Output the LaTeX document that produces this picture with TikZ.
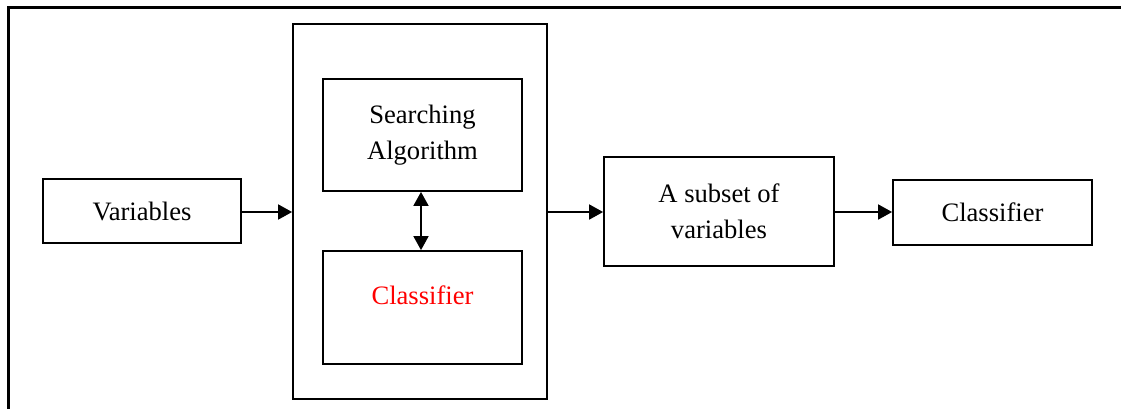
\documentclass[tikz,border=0pt]{standalone}
\usepackage{fontspec}
\setmainfont{Liberation Serif}
\usetikzlibrary{arrows.meta}
\begin{document}
\begin{tikzpicture}[x=0.5pt,y=-0.5pt,
  box/.style={draw,line width=0.9pt,inner sep=0pt,font=\fontsize{13.3}{17.8}\selectfont,align=center},
  conn/.style={line width=0.9pt,-{Triangle[length=7pt,width=7.5pt]}},
  frame/.style={line width=1.4pt}]
\useasboundingbox (0,0) rectangle (1121,409);
% outer frame (top and left only)
\coordinate (ftr) at (1121,7.5);
\coordinate (ftl) at (8.5,7.5);
\coordinate (fbl) at (8.5,409);
\draw[frame] (ftr) -- (ftl) -- (fbl);
% nodes
\node[box,minimum width=99pt,minimum height=32pt] (var) at (142,211) {Variables};
\node[box,minimum width=127pt,minimum height=187.5pt] (outer) at (420,211.5) {};
\node[box,minimum width=99.5pt,minimum height=56pt] (search) at (422.5,135) {Searching\\Algorithm};
\node[box,minimum width=99.5pt,minimum height=56.5pt] (cls) at (422.5,307.5) {};
\node[font=\fontsize{13.3}{17.8}\selectfont,text=red] (clst) at (422.5,295) {Classifier};
\node[box,minimum width=115pt,minimum height=54.5pt] (subset) at (719,211.5) {A subset of\\variables};
\node[box,minimum width=99.5pt,minimum height=32.5pt] (clf) at (992.5,212.5) {Classifier};
% connectors
\draw[conn] (var.east |- 0,212) -- (outer.west |- 0,212);
\draw[conn] (outer.east |- 0,212) -- (subset.west |- 0,212);
\draw[conn] (subset.east |- 0,212) -- (clf.west |- 0,212);
\draw[line width=0.9pt,{Triangle[length=7pt,width=7.5pt]}-{Triangle[length=7pt,width=7.5pt]}] (search.south -| 421,0) -- (cls.north -| 421,0);
\end{tikzpicture}
\end{document}
